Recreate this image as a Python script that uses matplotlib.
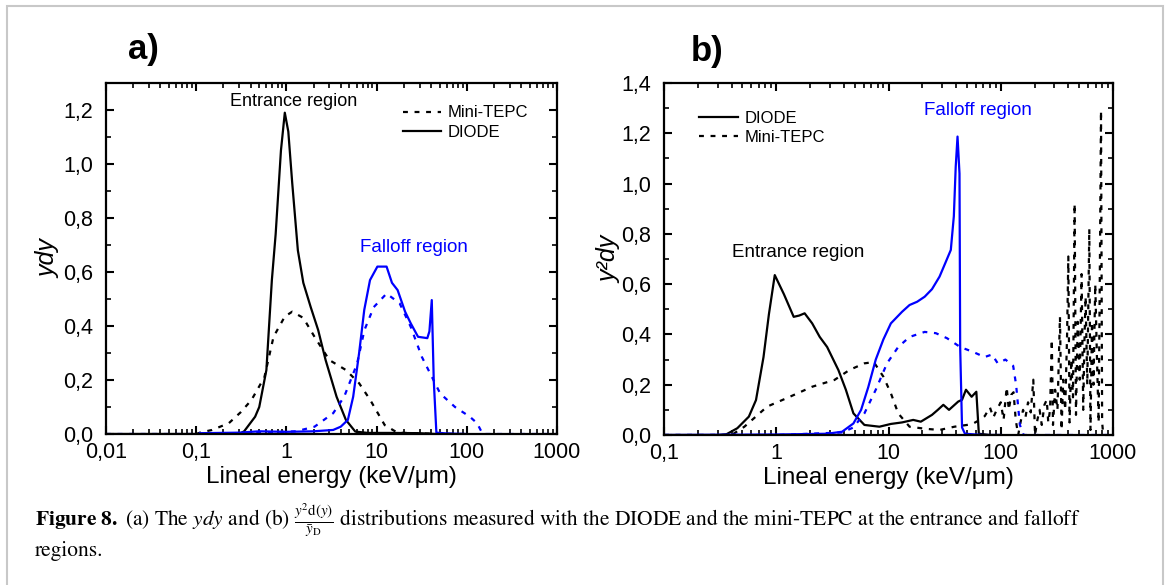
import matplotlib
matplotlib.use('Agg')
import matplotlib.pyplot as plt
from matplotlib.patches import Rectangle
from matplotlib.ticker import FuncFormatter, LogLocator, MultipleLocator, NullFormatter

plt.rcParams['font.family'] = ['Liberation Sans', 'DejaVu Sans']

BLUE = '#0000ff'

# ----- panel a: y d(y) -----
a_diode_ent_x = [0.01, 0.1, 0.3, 0.34, 0.45, 0.50, 0.60, 0.69, 0.76, 0.87, 0.96, 1.05, 1.16, 1.34, 1.54,
                 1.86, 2.25, 2.72, 3.6, 4.57, 5.8, 8, 15, 30, 45]
a_diode_ent_y = [0.0, 0.0, 0.0, 0.01, 0.064, 0.10, 0.237, 0.57, 0.74, 1.05, 1.19, 1.12, 0.93, 0.68, 0.56,
                 0.47, 0.385, 0.274, 0.138, 0.052, 0.009, 0.004, 0.004, 0.003, 0.0]

a_tepc_ent_x = [0.1, 0.11, 0.15, 0.23, 0.31, 0.41, 0.57, 0.72, 0.96, 1.16, 1.54, 2.05, 2.99, 4.57, 6.4,
                8.5, 12.3, 17, 30, 100]
a_tepc_ent_y = [0.0, 0.005, 0.015, 0.04, 0.08, 0.126, 0.21, 0.36, 0.435, 0.453, 0.43, 0.36, 0.274, 0.237,
                0.188, 0.126, 0.033, 0.005, 0.002, 0.0]

a_diode_fall_x = [0.11, 0.3, 0.5, 1.0, 2.0, 3.3, 4.0, 4.8, 5.5, 6.4, 7.3, 8.45, 10.2, 12.9, 14.8, 17.1,
                  20.7, 23.9, 28.8, 36.5, 38.5, 40.9, 43, 46, 60, 98]
a_diode_fall_y = [0.003, 0.005, 0.01, 0.008, 0.01, 0.015, 0.027, 0.052, 0.138, 0.30, 0.46, 0.57, 0.62,
                  0.62, 0.56, 0.533, 0.453, 0.41, 0.36, 0.355, 0.38, 0.496, 0.2, 0.005, 0.002, 0.0]

a_tepc_fall_x = [0.01, 0.1, 0.5, 1.28, 2.05, 3.3, 4.37, 6.07, 7.33, 9.3, 12.9, 18, 23.9, 31.7, 50.7, 74,
                 108, 130, 150, 300, 1000]
a_tepc_fall_y = [0.0, 0.0, 0.004, 0.01, 0.027, 0.077, 0.138, 0.26, 0.385, 0.47, 0.52, 0.484, 0.397,
                 0.286, 0.15, 0.10, 0.064, 0.04, 0.0, 0.0, 0.0]

# ----- panel b: y^2 d(y) -----
b_diode_ent_x = [0.1, 0.3, 0.36, 0.45, 0.57, 0.66, 0.77, 0.86, 0.97, 1.17, 1.43, 1.6, 1.79, 2.09, 2.44,
                 2.84, 3.58, 4.17, 4.87, 6.1, 8.3, 10.5, 13.2, 16.6, 19.4, 24.4, 27.5, 30.8, 34.6, 41.8,
                 45.2, 49, 55, 60.6, 63.8, 80, 100]
b_diode_ent_y = [0.0, 0.0, 0.003, 0.027, 0.073, 0.139, 0.31, 0.48, 0.636, 0.56, 0.47, 0.475, 0.484,
                 0.444, 0.39, 0.35, 0.258, 0.18, 0.086, 0.04, 0.033, 0.044, 0.05, 0.06, 0.053, 0.08,
                 0.10, 0.12, 0.10, 0.133, 0.14, 0.18, 0.152, 0.172, 0.005, 0.0, 0.0]

b_tepc_ent_x = [0.1, 0.4, 0.52, 0.83, 1.32, 2.09, 3.3, 4.5, 6.1, 7.4, 9.0, 10.5, 12.2, 15.4, 21, 28.5,
                38.7, 50, 57, 65, 72, 80, 86, 92, 100, 106, 113, 118, 124, 130, 136, 143, 150, 158,
                166, 175, 185, 195, 202, 212, 222, 232, 245, 257, 265, 275, 285, 292, 305, 320, 337,
                348, 360, 375, 390, 400, 410, 425, 440, 455, 468, 485, 505, 525, 543, 555, 570, 590,
                615, 630, 650, 670, 695, 720, 745, 765, 782, 800, 820]
b_tepc_ent_y = [0.0, 0.0, 0.033, 0.113, 0.152, 0.192, 0.219, 0.259, 0.285, 0.29, 0.232, 0.166, 0.086,
                0.033, 0.025, 0.02, 0.033, 0.04, 0.046, 0.06, 0.075, 0.11, 0.07, 0.10, 0.13, 0.06,
                0.19, 0.10, 0.16, 0.17, 0.06, 0.0, 0.05, 0.10, 0.07, 0.13, 0.09, 0.22, 0.0, 0.06, 0.10,
                0.04, 0.12, 0.14, 0.05, 0.10, 0.38, 0.04, 0.18, 0.10, 0.47, 0.02, 0.22, 0.10, 0.40,
                0.71, 0.05, 0.30, 0.15, 0.92, 0.08, 0.45, 0.22, 0.64, 0.10, 0.35, 0.55, 0.20, 0.82,
                0.02, 0.45, 0.20, 0.60, 0.30, 0.05, 0.70, 1.29, 0.05, 0.0]

b_diode_fall_x = [0.1, 1.0, 2.84, 3.86, 4.87, 5.7, 6.6, 7.7, 9.0, 10.5, 13.2, 15.4, 18, 21, 24.4, 28.5,
                  32, 35.9, 38.2, 39.7, 41.2, 42.9, 43.5, 45.2, 48, 70, 100]
b_diode_fall_y = [0.0, 0.002, 0.005, 0.013, 0.046, 0.10, 0.19, 0.30, 0.38, 0.444, 0.49, 0.517, 0.53,
                  0.55, 0.58, 0.63, 0.683, 0.736, 0.87, 1.067, 1.187, 1.04, 0.35, 0.03, 0.005, 0.0, 0.0]

b_tepc_fall_x = [0.1, 1.0, 3.86, 4.87, 6.1, 7.7, 9.7, 12.2, 15.4, 21, 26.4, 33.2, 43.5, 57, 71.7, 83.6,
                 94, 110, 129, 137, 148, 160, 300, 1000]
b_tepc_fall_y = [0.0, 0.0, 0.01, 0.03, 0.086, 0.18, 0.285, 0.35, 0.39, 0.41, 0.405, 0.385, 0.35, 0.33,
                 0.31, 0.32, 0.285, 0.30, 0.275, 0.2, 0.04, 0.0, 0.0, 0.0]


def comma(v, pos=None, fmt='%g'):
    return (fmt % v).replace('.', ',')


def style_axes(ax, ymax, xmin):
    ax.set_xscale('log')
    ax.set_xlim(xmin, 1000)
    ax.set_ylim(0, ymax)
    ax.xaxis.set_major_locator(LogLocator(base=10, numticks=10))
    ax.xaxis.set_minor_locator(LogLocator(base=10, subs=range(2, 10), numticks=20))
    ax.xaxis.set_minor_formatter(NullFormatter())
    ax.xaxis.set_major_formatter(FuncFormatter(lambda v, p: comma(v)))
    ax.yaxis.set_major_locator(MultipleLocator(0.2))
    ax.yaxis.set_minor_locator(MultipleLocator(0.1))
    ax.yaxis.set_major_formatter(FuncFormatter(lambda v, p: comma(v, fmt='%.1f')))
    ax.tick_params(which='both', direction='in', top=True, right=True, labelsize=15.5)
    ax.tick_params(which='major', length=6, width=1.5)
    ax.tick_params(which='minor', length=3.5, width=1.2)
    ax.tick_params(axis='x', which='major', pad=6)
    ax.tick_params(axis='y', which='major', pad=9)
    for s in ax.spines.values():
        s.set_linewidth(1.6)
    ax.set_xlabel('Lineal energy (keV/\u03bcm)', fontsize=17.5, labelpad=2)


fig = plt.figure(figsize=(11.67, 5.85), dpi=100)
W, H = 1167, 585
dot = (0, (2.2, 3.0))

# panel a
ax1 = fig.add_axes([106 / W, 1 - 434 / H, 451 / W, 351 / H])
l_tepc, = ax1.plot(a_tepc_ent_x, a_tepc_ent_y, color='k', lw=1.6, linestyle=dot, label='Mini-TEPC')
l_diode, = ax1.plot(a_diode_ent_x, a_diode_ent_y, color='k', lw=1.6, label='DIODE')
ax1.plot(a_tepc_fall_x, a_tepc_fall_y, color=BLUE, lw=1.6, linestyle=dot)
ax1.plot(a_diode_fall_x, a_diode_fall_y, color=BLUE, lw=1.6)
style_axes(ax1, 1.3, 0.01)
ax1.set_ylabel('ydy', fontsize=18, style='italic', labelpad=2)
ax1.text(1.2, 1.23, 'Entrance region', fontsize=13, ha='center', va='center')
ax1.text(26, 0.69, 'Falloff region', fontsize=13.5, ha='center', va='center', color=BLUE)
ax1.legend(handles=[l_tepc, l_diode], loc='upper left', frameon=False, fontsize=12, borderpad=0,
           handlelength=2.3, handletextpad=0.4, labelspacing=0.25, bbox_to_anchor=(0.64, 0.96))

# panel b
ax2 = fig.add_axes([664 / W, 1 - 435 / H, 449 / W, 352 / H])
m_diode, = ax2.plot(b_diode_ent_x, b_diode_ent_y, color='k', lw=1.6, label='DIODE')
m_tepc, = ax2.plot(b_tepc_ent_x, b_tepc_ent_y, color='k', lw=1.6, linestyle=dot, label='Mini-TEPC')
ax2.plot(b_tepc_fall_x, b_tepc_fall_y, color=BLUE, lw=1.6, linestyle=dot)
ax2.plot(b_diode_fall_x, b_diode_fall_y, color=BLUE, lw=1.6)
style_axes(ax2, 1.4, 0.1)
ax2.set_ylabel('y\u00b2dy', fontsize=18, style='italic', labelpad=0)
ax2.text(1.57, 0.727, 'Entrance region', fontsize=13.5, ha='center', va='center')
ax2.text(62.5, 1.289, 'Falloff region', fontsize=13.5, ha='center', va='center', color=BLUE)
ax2.legend(handles=[m_diode, m_tepc], loc='upper left', frameon=False, fontsize=12, borderpad=0,
           handlelength=2.3, handletextpad=0.4, labelspacing=0.25, bbox_to_anchor=(0.06, 0.945))

# panel letters
fig.text(143 / W, 1 - 50 / H, 'a)', fontsize=25, fontweight='bold', ha='center', va='center')
fig.text(707 / W, 1 - 51 / H, 'b)', fontsize=25, fontweight='bold', ha='center', va='center')

# caption
cap1 = (r'$\mathbf{Figure\ 8.}$ (a) The $ydy$ and (b) $\frac{y^2\mathrm{d}(y)}{\bar{y}_{\mathrm{D}}}$'
        ' distributions measured with the DIODE and the mini-TEPC at the entrance and falloff')
fig.text(35 / W, 1 - 526 / H, cap1, fontsize=15.4, family='STIXGeneral', math_fontfamily='stix',
         ha='left', va='baseline')
fig.text(35 / W, 1 - 556 / H, 'regions.', fontsize=15.4, family='STIXGeneral', ha='left', va='baseline')

# outer frame
fig.patches.append(Rectangle((7 / W, -0.05), 1156 / W, 1 - 6 / H + 0.05, transform=fig.transFigure,
                             fill=False, ec='#c8c8c8', lw=1.5))

fig.savefig('out.png', dpi=100)
